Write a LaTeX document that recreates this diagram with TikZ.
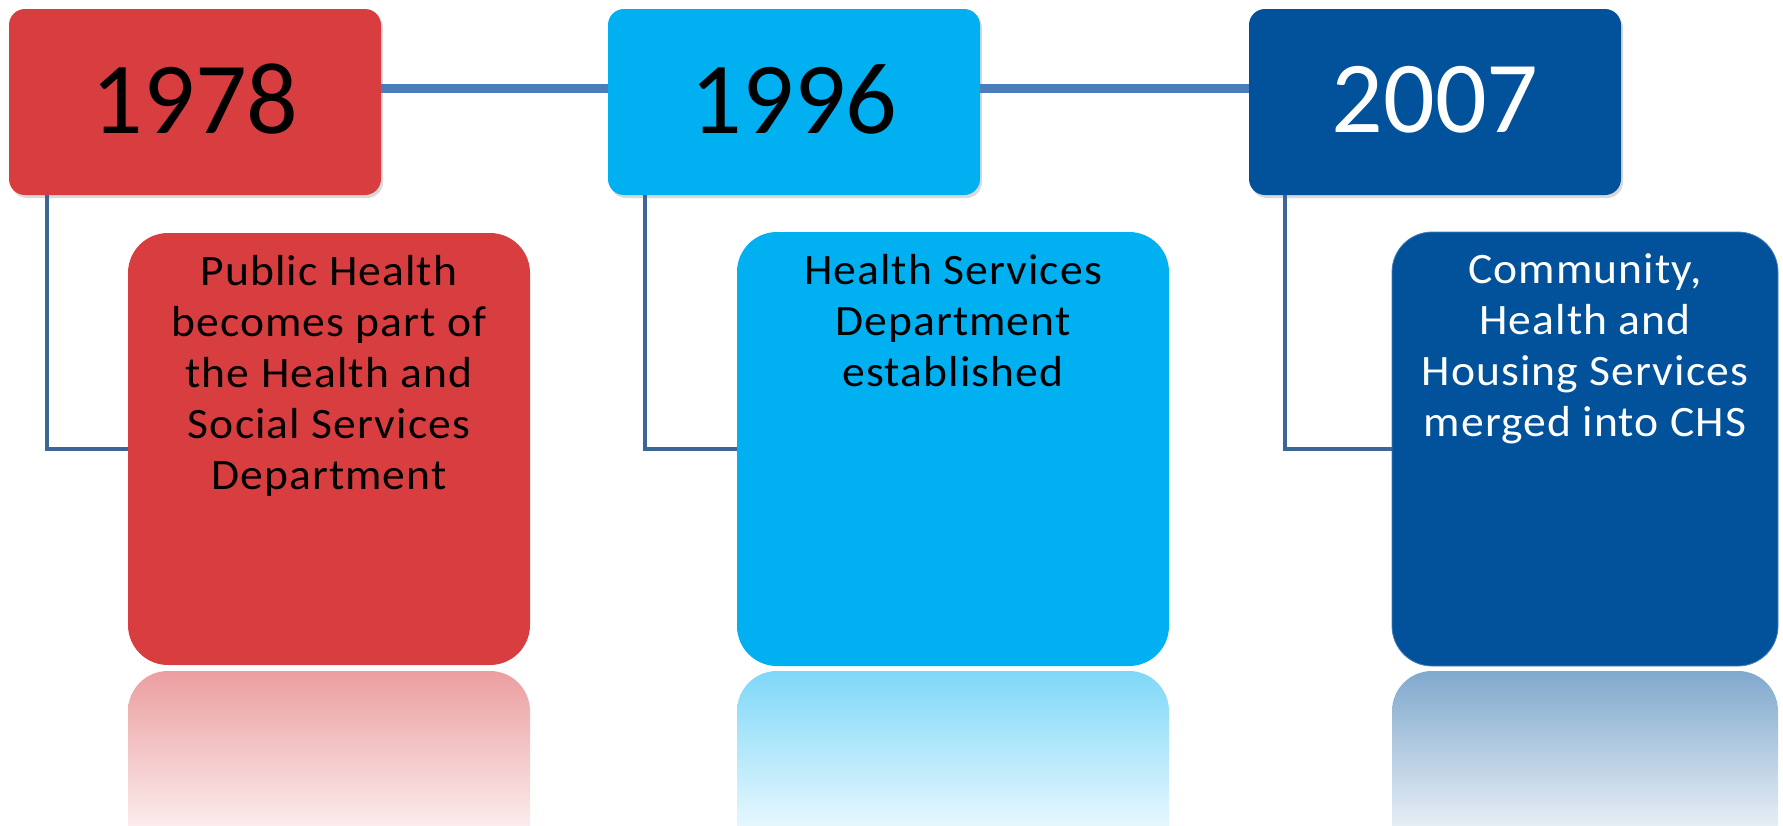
\documentclass[tikz,border=0pt]{standalone}
\usepackage{fontspec}
\setmainfont{Carlito}
\newfontfamily\descfont[FakeStretch=1.05, LetterSpace=2.5]{Carlito}
\usetikzlibrary{shadows}
\definecolor{redbox}{RGB}{216,62,64}
\definecolor{cyanbox}{RGB}{0,176,240}
\definecolor{bluebox}{RGB}{2,82,155}
\definecolor{timeline}{RGB}{74,126,187}
\definecolor{branch}{RGB}{62,101,151}

\begin{document}
\begin{tikzpicture}[x=0.5pt, y=-0.5pt,
		yearbox/.style={rounded corners=8pt, minimum width=186pt, minimum height=93pt,
			inner sep=0pt, text depth=0pt, font=\fontsize{51}{60}\selectfont,
			drop shadow={shadow xshift=1pt, shadow yshift=-1.5pt, opacity=0.3}},
		descbox/.style={rounded corners=20pt, inner sep=0pt, font=\descfont\fontsize{21.7}{25.5}\selectfont},
		reflect/.style={rounded corners=20pt},
		link/.style={line width=2pt, draw=branch}]
		\useasboundingbox (0,0) rectangle (1783,825);
		% reflections
		\begin{scope}
			\clip (0,0) rectangle (1783,825);
			\shade[reflect, top color=redbox!50!white, bottom color=white] (128,671) rectangle (530,865);
			\shade[reflect, top color=cyanbox!50!white, bottom color=white] (737,671) rectangle (1169,865);
			\shade[reflect, top color=bluebox!50!white, bottom color=white] (1392,671) rectangle (1778,865);
		\end{scope}
		% year boxes
		\node[yearbox, fill=redbox] (y1978) at (195,102) {\raisebox{3pt}{1978}};
		\node[yearbox, fill=cyanbox] (y1996) at (794,102) {\raisebox{3pt}{1996}};
		\node[yearbox, fill=bluebox, text=white] (y2007) at (1435,102) {\raisebox{3pt}{2007}};
		% description boxes
		\node[descbox, fill=redbox] (d1978) at (329,449)
			{\parbox[c][216pt][t]{201pt}{\centering\vspace*{11pt}Public Health\\becomes part of\\the Health and\\Social Services\\Department}};
		\node[descbox, fill=cyanbox] (d1996) at (953,449)
			{\parbox[c][217pt][t]{216pt}{\centering\vspace*{11pt}Health Services\\Department\\established}};
		\node[descbox, fill=bluebox, draw=timeline, text=white] (d2007) at (1585,449)
			{\parbox[c][217pt][t]{193pt}{\centering\vspace*{11pt}Community,\\Health and\\Housing Services\\merged into CHS}};
		% timeline
		\draw[line width=4.5pt, timeline] ([yshift=7pt]y1978.east) -- ([yshift=7pt]y1996.west);
		\draw[line width=4.5pt, timeline] ([yshift=7pt]y1996.east) -- ([yshift=7pt]y2007.west);
		\draw[link] ([xshift=19pt]y1978.south west) |- (d1978.west);
		\draw[link] ([xshift=18.5pt]y1996.south west) |- (d1996.west);
		\draw[link] ([xshift=18pt]y2007.south west) |- (d2007.west);
\end{tikzpicture}
\end{document}
